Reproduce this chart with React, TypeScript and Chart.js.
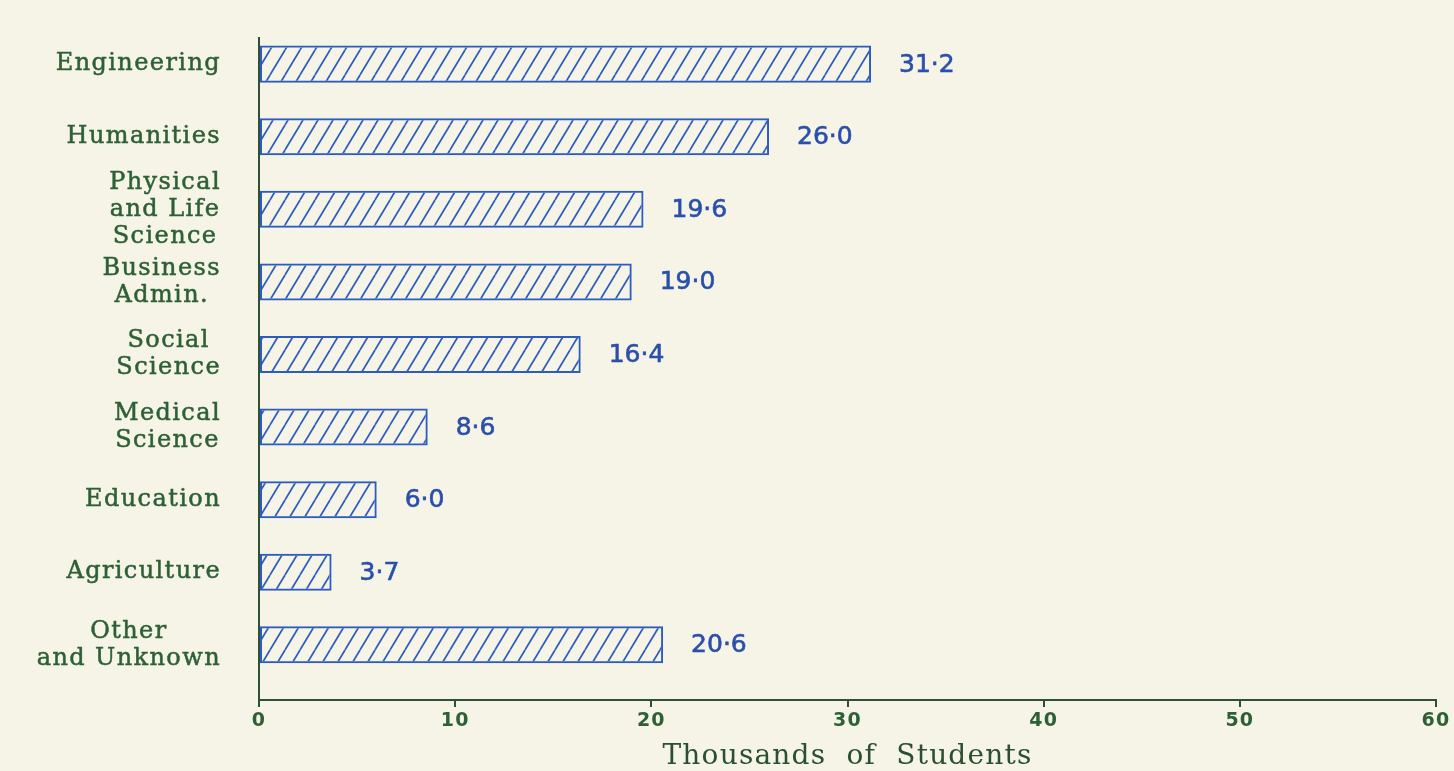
import React, { useEffect, useRef } from "react";
import { Chart, registerables } from "chart.js";
Chart.register(...registerables);

const categories: string[][] = [
  ["Engineering"],
  ["Humanities"],
  ["Physical", "and Life", "Science"],
  ["Business", "Admin."],
  ["Social", "Science"],
  ["Medical", "Science"],
  ["Education"],
  ["Agriculture"],
  ["Other", "and Unknown"],
];
const values = [31.2, 26.0, 19.6, 19.0, 16.4, 8.6, 6.0, 3.7, 20.6];
const valueLabels = ["31·2", "26·0", "19·6", "19·0", "16·4", "8·6", "6·0", "3·7", "20·6"];
const xMin = 0;
const xMax = 60;
const xStep = 10;
const axisTitle = "Thousands  of  Students";

const BG = "#f6f4e7";
const BLUE = "#2d5cc0";
const VALUE_BLUE = "#2a4fab";
const GREEN_TEXT = "#2e6036";
const AXIS = "#2e5034";

function makeHatch(): CanvasPattern | string {
  const w = 15;
  const h = 25;
  const c = document.createElement("canvas");
  c.width = w;
  c.height = h;
  const ctx = c.getContext("2d");
  if (!ctx) return BLUE;
  ctx.strokeStyle = BLUE;
  ctx.lineWidth = 1.7;
  for (const dx of [-w, 0, w]) {
    ctx.beginPath();
    ctx.moveTo(dx, h);
    ctx.lineTo(dx + w, 0);
    ctx.stroke();
  }
  return ctx.createPattern(c, "repeat") || BLUE;
}

const labelPlugin = {
  id: "customLabels",
  beforeDraw(chart: any) {
    (chart.ctx as any).letterSpacing = "1.2px";
  },
  afterDatasetsDraw(chart: any) {
    const ctx: CanvasRenderingContext2D = chart.ctx;
    const yScale = chart.scales.y;
    const meta = chart.getDatasetMeta(0);
    ctx.save();
    ctx.font = "24px 'DejaVu Serif'";
    (ctx as any).letterSpacing = "1.4px";
    ctx.fillStyle = GREEN_TEXT;
    ctx.strokeStyle = GREEN_TEXT;
    ctx.lineWidth = 0.5;
    ctx.textBaseline = "middle";
    ctx.textAlign = "center";
    const right = chart.chartArea.left - 38;
    const lh = 27;
    categories.forEach((lines, i) => {
      const yc = yScale.getPixelForValue(i);
      const maxW = Math.max(...lines.map((l) => ctx.measureText(l).width));
      const cx = right - maxW / 2;
      lines.forEach((l, j) => {
        const y = yc + (j - (lines.length - 1) / 2) * lh;
        ctx.fillText(l, cx, y);
        ctx.strokeText(l, cx, y);
      });
    });
    (ctx as any).letterSpacing = "0px";
    ctx.font = "25px 'DejaVu Sans'";
    ctx.fillStyle = VALUE_BLUE;
    ctx.strokeStyle = VALUE_BLUE;
    ctx.lineWidth = 0.6;
    ctx.textAlign = "left";
    meta.data.forEach((bar: any, i: number) => {
      ctx.fillText(valueLabels[i], bar.x + 28, bar.y + 1);
      ctx.strokeText(valueLabels[i], bar.x + 28, bar.y + 1);
    });
    ctx.restore();
  },
};

export default function App() {
  const ref = useRef<HTMLCanvasElement>(null);
  useEffect(() => {
    if (!ref.current) return;
    const chart = new Chart(ref.current, {
      type: "bar",
      data: {
        datasets: [
          {
            data: values.map((v, i) => ({ x: v, y: i })) as any,
            backgroundColor: makeHatch() as any,
            borderColor: BLUE,
            borderWidth: 2,
            borderSkipped: false,
            categoryPercentage: 1,
            barPercentage: 0.51,
          },
        ],
      },
      options: {
        indexAxis: "y",
        animation: false,
        responsive: true,
        maintainAspectRatio: false,
        layout: { padding: { top: 38, right: 18, left: 0, bottom: 0 } },
        plugins: {
          legend: { display: false },
          tooltip: { enabled: false },
        },
        scales: {
          x: {
            type: "linear",
            min: xMin,
            max: xMax,
            ticks: {
              stepSize: xStep,
              color: GREEN_TEXT,
              font: { family: "'DejaVu Sans'", size: 19, weight: "bold" },
              padding: 3,
            },
            grid: {
              drawOnChartArea: false,
              drawTicks: true,
              tickLength: 7,
              color: AXIS,
              lineWidth: 2,
            },
            border: { display: true, color: AXIS, width: 2 },
            title: {
              display: true,
              text: axisTitle,
              color: "#2a4f31",
              font: { family: "'DejaVu Serif'", size: 28, lineHeight: 1 },
              padding: { top: 0, bottom: 0 },
            },
            afterFit: (s: any) => {
              s.height = 71;
            },
          },
          y: {
            type: "linear",
            reverse: true,
            offset: false,
            min: -0.36,
            max: 8.76,
            afterBuildTicks: (s: any) => {
              s.ticks = categories.map((_, i) => ({ value: i }));
            },
            ticks: { display: false },
            grid: { display: false },
            border: { display: true, color: AXIS, width: 2 },
            afterFit: (s: any) => {
              s.width = 259;
            },
          },
        },
      } as any,
      plugins: [labelPlugin],
    });
    return () => chart.destroy();
  }, []);
  return (
    <div
      style={{
        position: "absolute",
        left: 0,
        top: 0,
        width: 1454,
        height: 771,
        background: BG,
      }}
    >
      <canvas ref={ref} />
    </div>
  );
}
